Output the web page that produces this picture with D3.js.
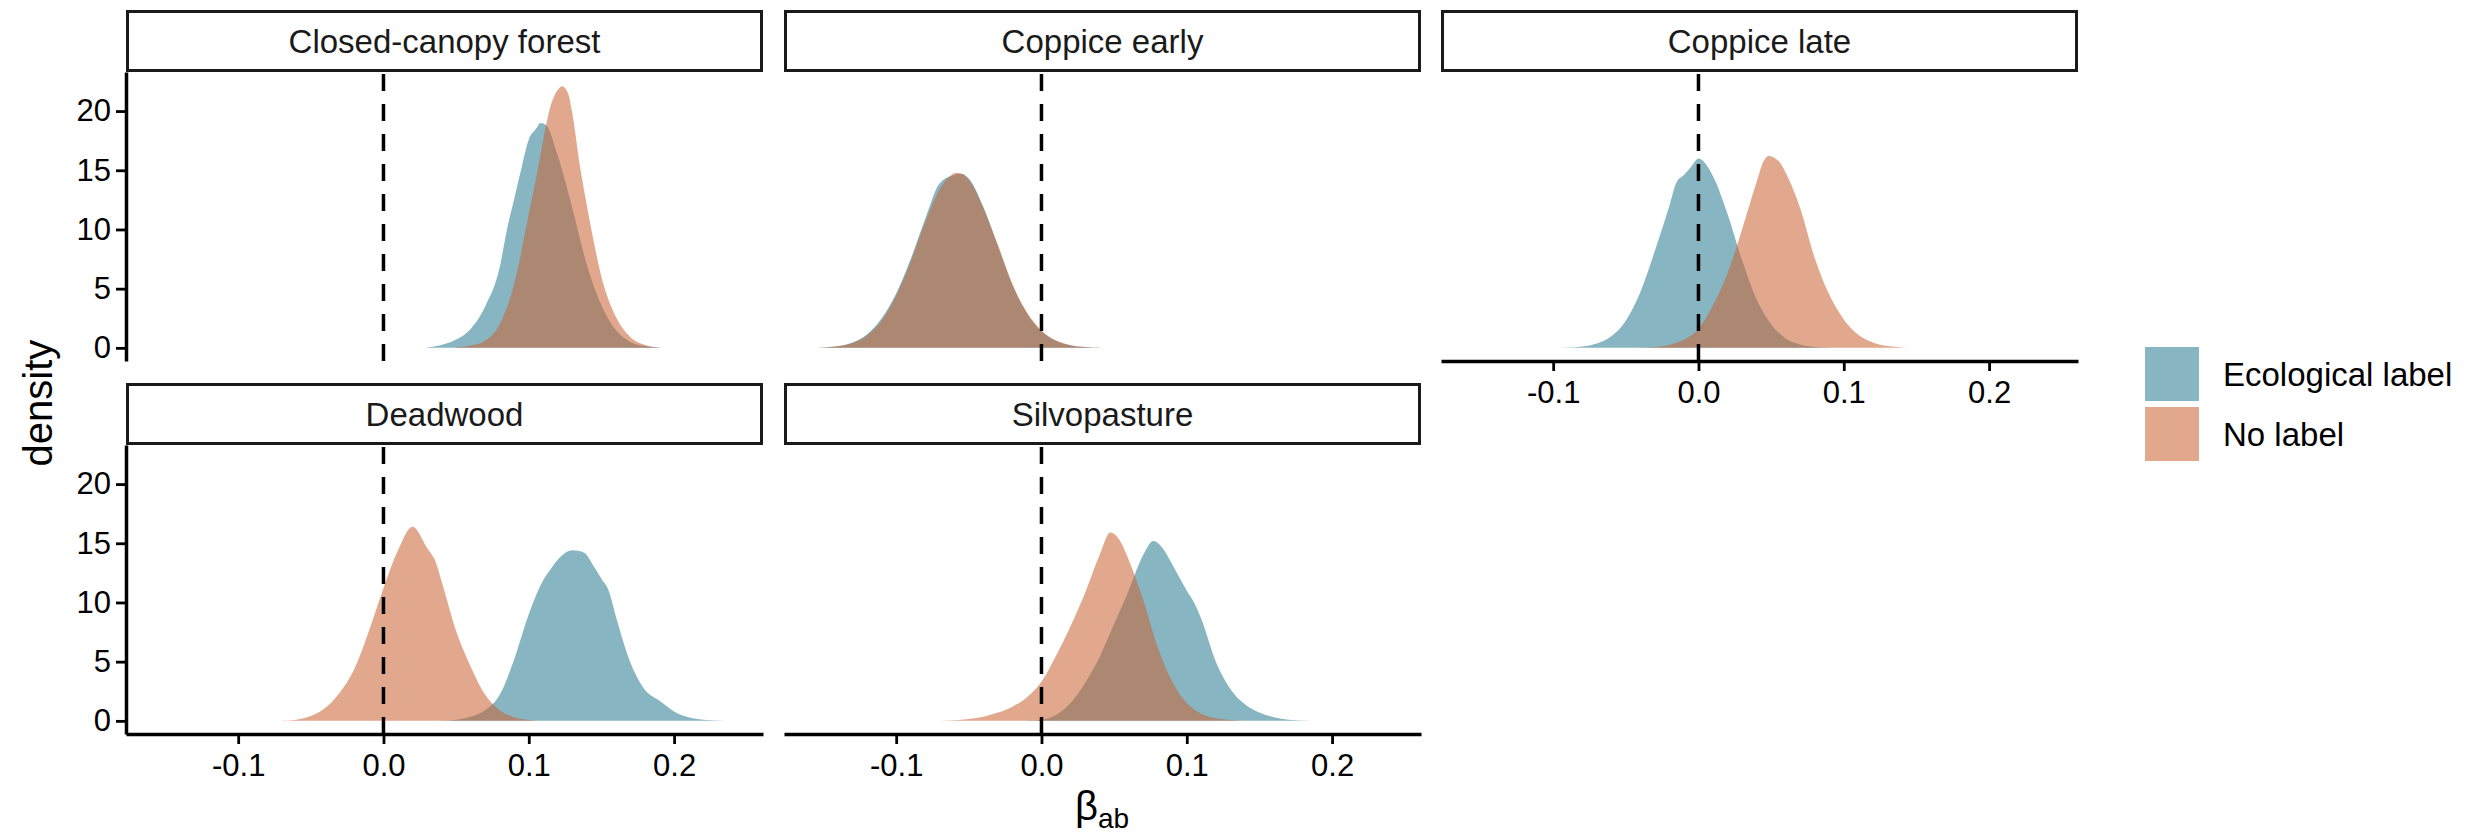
<!DOCTYPE html>
<html>
<head>
<meta charset="utf-8">
<script src="https://cdn.jsdelivr.net/npm/d3@7"></script>
<style>
  html, body { margin: 0; padding: 0; background: #fff; }
  svg { display: block; font-family: "Liberation Sans", Arial, Helvetica, sans-serif; }
</style>
</head>
<body>
<svg id="chart" width="2483" height="836"></svg>
<script>
// ---------------- data ----------------
const facets = ["Closed-canopy forest", "Coppice early", "Coppice late", "Deadwood", "Silvopasture"];
const seriesNames = ["Ecological label", "No label"];
const xTicks = [-0.1, 0.0, 0.1, 0.2];
const yTicks = [0, 5, 10, 15, 20];
const refLineX = 0;

// [beta_ab, density] pairs
const closedEco = [[0.03,0.05],[0.04,0.25],[0.05,0.7],[0.06,1.6],[0.07,3.5],[0.08,6.8],[0.085,10.0],[0.09,12.6],[0.095,15.2],[0.10,17.6],[0.105,18.5],[0.108,19.0],[0.112,18.8],[0.12,16.2],[0.13,11.8],[0.14,7.0],[0.15,3.6],[0.16,1.5],[0.17,0.5],[0.18,0.15],[0.19,0.02]];
const closedNo = [[0.05,0.05],[0.06,0.2],[0.07,0.6],[0.08,2.0],[0.09,5.4],[0.10,11.3],[0.105,14.3],[0.11,17.6],[0.115,20.4],[0.12,21.8],[0.123,22.1],[0.127,21.5],[0.13,19.8],[0.135,15.5],[0.14,12.0],[0.145,8.8],[0.15,6.0],[0.16,2.6],[0.17,0.9],[0.18,0.25],[0.19,0.04]];

const earlyEco = [[-0.16,0.01],[-0.15,0.04],[-0.14,0.14],[-0.13,0.45],[-0.12,1.15],[-0.11,2.5],[-0.10,4.6],[-0.09,7.5],[-0.08,10.9],[-0.07,13.9],[-0.06,14.6],[-0.055,14.7],[-0.05,14.3],[-0.04,11.9],[-0.03,8.6],[-0.02,5.3],[-0.01,2.9],[0.00,1.4],[0.01,0.6],[0.02,0.22],[0.03,0.07],[0.04,0.02]];
const earlyNo = [[-0.16,0.01],[-0.15,0.04],[-0.14,0.15],[-0.13,0.42],[-0.12,1.05],[-0.11,2.3],[-0.10,4.4],[-0.09,7.3],[-0.08,10.6],[-0.07,13.4],[-0.058,14.8],[-0.05,14.2],[-0.04,11.8],[-0.03,8.7],[-0.02,5.4],[-0.01,3.0],[0.00,1.45],[0.01,0.62],[0.02,0.23],[0.03,0.07],[0.04,0.02]];

const lateEco = [[-0.11,0.0],[-0.10,0.01],[-0.09,0.03],[-0.08,0.11],[-0.07,0.36],[-0.06,0.98],[-0.05,2.3],[-0.04,4.7],[-0.03,8.2],[-0.02,12.0],[-0.015,14.0],[-0.01,14.6],[-0.005,15.3],[0.00,16.0],[0.01,14.5],[0.02,11.3],[0.03,7.4],[0.04,4.1],[0.05,2.0],[0.06,0.8],[0.07,0.28],[0.08,0.08],[0.09,0.02]];
const lateNo = [[-0.04,0.02],[-0.03,0.08],[-0.02,0.25],[-0.01,0.7],[0.00,1.6],[0.01,3.6],[0.02,6.3],[0.03,10.0],[0.04,14.0],[0.045,15.8],[0.048,16.2],[0.055,15.8],[0.06,14.8],[0.07,11.8],[0.08,7.6],[0.09,4.5],[0.10,2.4],[0.11,1.1],[0.12,0.45],[0.13,0.15],[0.14,0.04],[0.15,0.0]];

const deadEco = [[0.04,0.02],[0.05,0.1],[0.06,0.35],[0.07,0.9],[0.08,2.2],[0.09,5.2],[0.10,9.0],[0.11,11.9],[0.115,12.8],[0.12,13.6],[0.13,14.4],[0.138,14.2],[0.145,13.0],[0.15,12.0],[0.155,11.0],[0.16,8.8],[0.17,4.9],[0.18,2.6],[0.19,1.7],[0.20,0.8],[0.21,0.3],[0.22,0.1],[0.23,0.03],[0.24,0.01]];
const deadNo = [[-0.07,0.02],[-0.06,0.1],[-0.05,0.4],[-0.04,1.1],[-0.03,2.4],[-0.02,4.4],[-0.01,7.6],[0.00,11.2],[0.01,14.4],[0.02,16.4],[0.03,14.6],[0.036,13.4],[0.04,11.8],[0.05,7.6],[0.06,4.6],[0.07,2.2],[0.08,0.9],[0.09,0.3],[0.10,0.08],[0.11,0.0]];

const silvoEco = [[-0.01,0.02],[0.00,0.1],[0.01,0.5],[0.02,1.5],[0.03,3.2],[0.04,5.4],[0.05,8.2],[0.06,11.0],[0.07,14.0],[0.077,15.2],[0.085,14.3],[0.09,13.2],[0.10,11.0],[0.105,10.0],[0.11,8.6],[0.12,5.0],[0.13,2.7],[0.14,1.4],[0.15,0.7],[0.16,0.3],[0.17,0.1],[0.18,0.03],[0.19,0.0]];
const silvoNo = [[-0.07,0.01],[-0.06,0.05],[-0.05,0.15],[-0.04,0.35],[-0.03,0.7],[-0.02,1.2],[-0.01,2.0],[0.00,3.3],[0.01,5.5],[0.02,8.0],[0.03,10.8],[0.04,14.0],[0.0475,15.9],[0.055,15.0],[0.06,13.6],[0.07,10.2],[0.08,6.2],[0.09,3.3],[0.10,1.5],[0.11,0.6],[0.12,0.22],[0.13,0.07],[0.14,0.01]];

const facetData = [
  [closedEco, closedNo],
  [earlyEco, earlyNo],
  [lateEco, lateNo],
  [deadEco, deadNo],
  [silvoEco, silvoNo]
];

// ---------------- styling / layout ----------------
const colors = ["#25788e", "#ca6132"];
const fillOpacity = 0.55;
const colLeft = [126, 784, 1441];
const panelW = 637;
const rowTop = [72, 445];
const panelH = 289;
const stripH = 62;
const xDomain = [-0.1772, 0.2612];
const yDomain = [-1.11, 23.3];
const axisW = 3.5;
const tickFont = 31, stripFont = 33, titleFont = 40;

const svg = d3.select("#chart");

facets.forEach((name, i) => {
  const col = i % 3, row = Math.floor(i / 3);
  const x0 = colLeft[col], y0 = rowTop[row];
  const x = d3.scaleLinear().domain(xDomain).range([x0, x0 + panelW]);
  const y = d3.scaleLinear().domain(yDomain).range([y0 + panelH, y0]);
  const g = svg.append("g");

  // densities
  const area = d3.area()
    .x(d => x(d[0]))
    .y0(y(0))
    .y1(d => y(d[1]))
    .curve(d3.curveMonotoneX);
  facetData[i].forEach((ser, s) => {
    g.append("path").datum(ser)
      .attr("d", area)
      .attr("fill", colors[s])
      .attr("fill-opacity", fillOpacity);
  });

  // dashed reference line (drawn bottom to top)
  g.append("path")
    .attr("d", `M${x(refLineX)},${y0 + panelH}L${x(refLineX)},${y0}`)
    .attr("stroke", "#000").attr("stroke-width", 3.5)
    .attr("stroke-dasharray", "17,13").attr("fill", "none");

  // strip
  g.append("rect")
    .attr("x", x0 + 1.5).attr("y", y0 - stripH + 1.5)
    .attr("width", panelW - 3).attr("height", stripH - 3)
    .attr("fill", "#fff").attr("stroke", "#1a1a1a").attr("stroke-width", 3);
  g.append("text")
    .attr("x", x0 + panelW / 2).attr("y", y0 - stripH / 2 + stripFont * 0.36)
    .attr("text-anchor", "middle")
    .attr("font-size", stripFont).attr("fill", "#1a1a1a")
    .text(name);

  // y axis
  if (col === 0) {
    const ax = g.append("g").attr("transform", `translate(${x0},0)`)
      .call(d3.axisLeft(y).tickValues(yTicks).tickSize(10).tickSizeOuter(0).tickPadding(5).tickFormat(d3.format("d")));
    ax.select(".domain").attr("stroke-width", axisW).attr("stroke", "#000");
    ax.selectAll(".tick line").attr("stroke-width", axisW * 0.8).attr("stroke", "#000");
    ax.selectAll(".tick text").attr("font-size", tickFont).attr("fill", "#000")
      .attr("font-family", "Liberation Sans, Arial, sans-serif");
  }
  // x axis
  if (row === 1 || col === 2) {
    const ax = g.append("g").attr("transform", `translate(0,${y0 + panelH})`)
      .call(d3.axisBottom(x).tickValues(xTicks).tickSize(10).tickSizeOuter(0).tickPadding(10).tickFormat(d => d.toFixed(1)));
    ax.select(".domain").attr("stroke-width", axisW).attr("stroke", "#000");
    ax.selectAll(".tick line").attr("stroke-width", axisW * 0.8).attr("stroke", "#000");
    ax.selectAll(".tick text").attr("font-size", tickFont).attr("fill", "#000")
      .attr("font-family", "Liberation Sans, Arial, sans-serif");
  }
});

// axis titles
svg.append("text")
  .attr("transform", `translate(52,${(rowTop[0] + rowTop[1] + panelH) / 2}) rotate(-90)`)
  .attr("text-anchor", "middle").attr("font-size", titleFont).attr("fill", "#000")
  .text("density");

const xt = svg.append("text")
  .attr("x", (colLeft[0] + colLeft[2] + panelW) / 2).attr("y", 820)
  .attr("text-anchor", "middle").attr("font-size", titleFont).attr("fill", "#000");
xt.append("tspan").text("\u03B2");
xt.append("tspan").attr("font-size", 28).attr("dy", 8).text("ab");

// legend
const legX = 2145, legY = 347, keyS = 54, keyGap = 6;
seriesNames.forEach((n, s) => {
  const ky = legY + s * (keyS + keyGap);
  svg.append("rect").attr("x", legX).attr("y", ky).attr("width", keyS).attr("height", keyS)
    .attr("fill", colors[s]).attr("fill-opacity", fillOpacity);
  svg.append("text").attr("x", legX + keyS + 24).attr("y", ky + keyS / 2 + stripFont * 0.36)
    .attr("font-size", stripFont).attr("fill", "#000").text(n);
});
</script>
</body>
</html>
